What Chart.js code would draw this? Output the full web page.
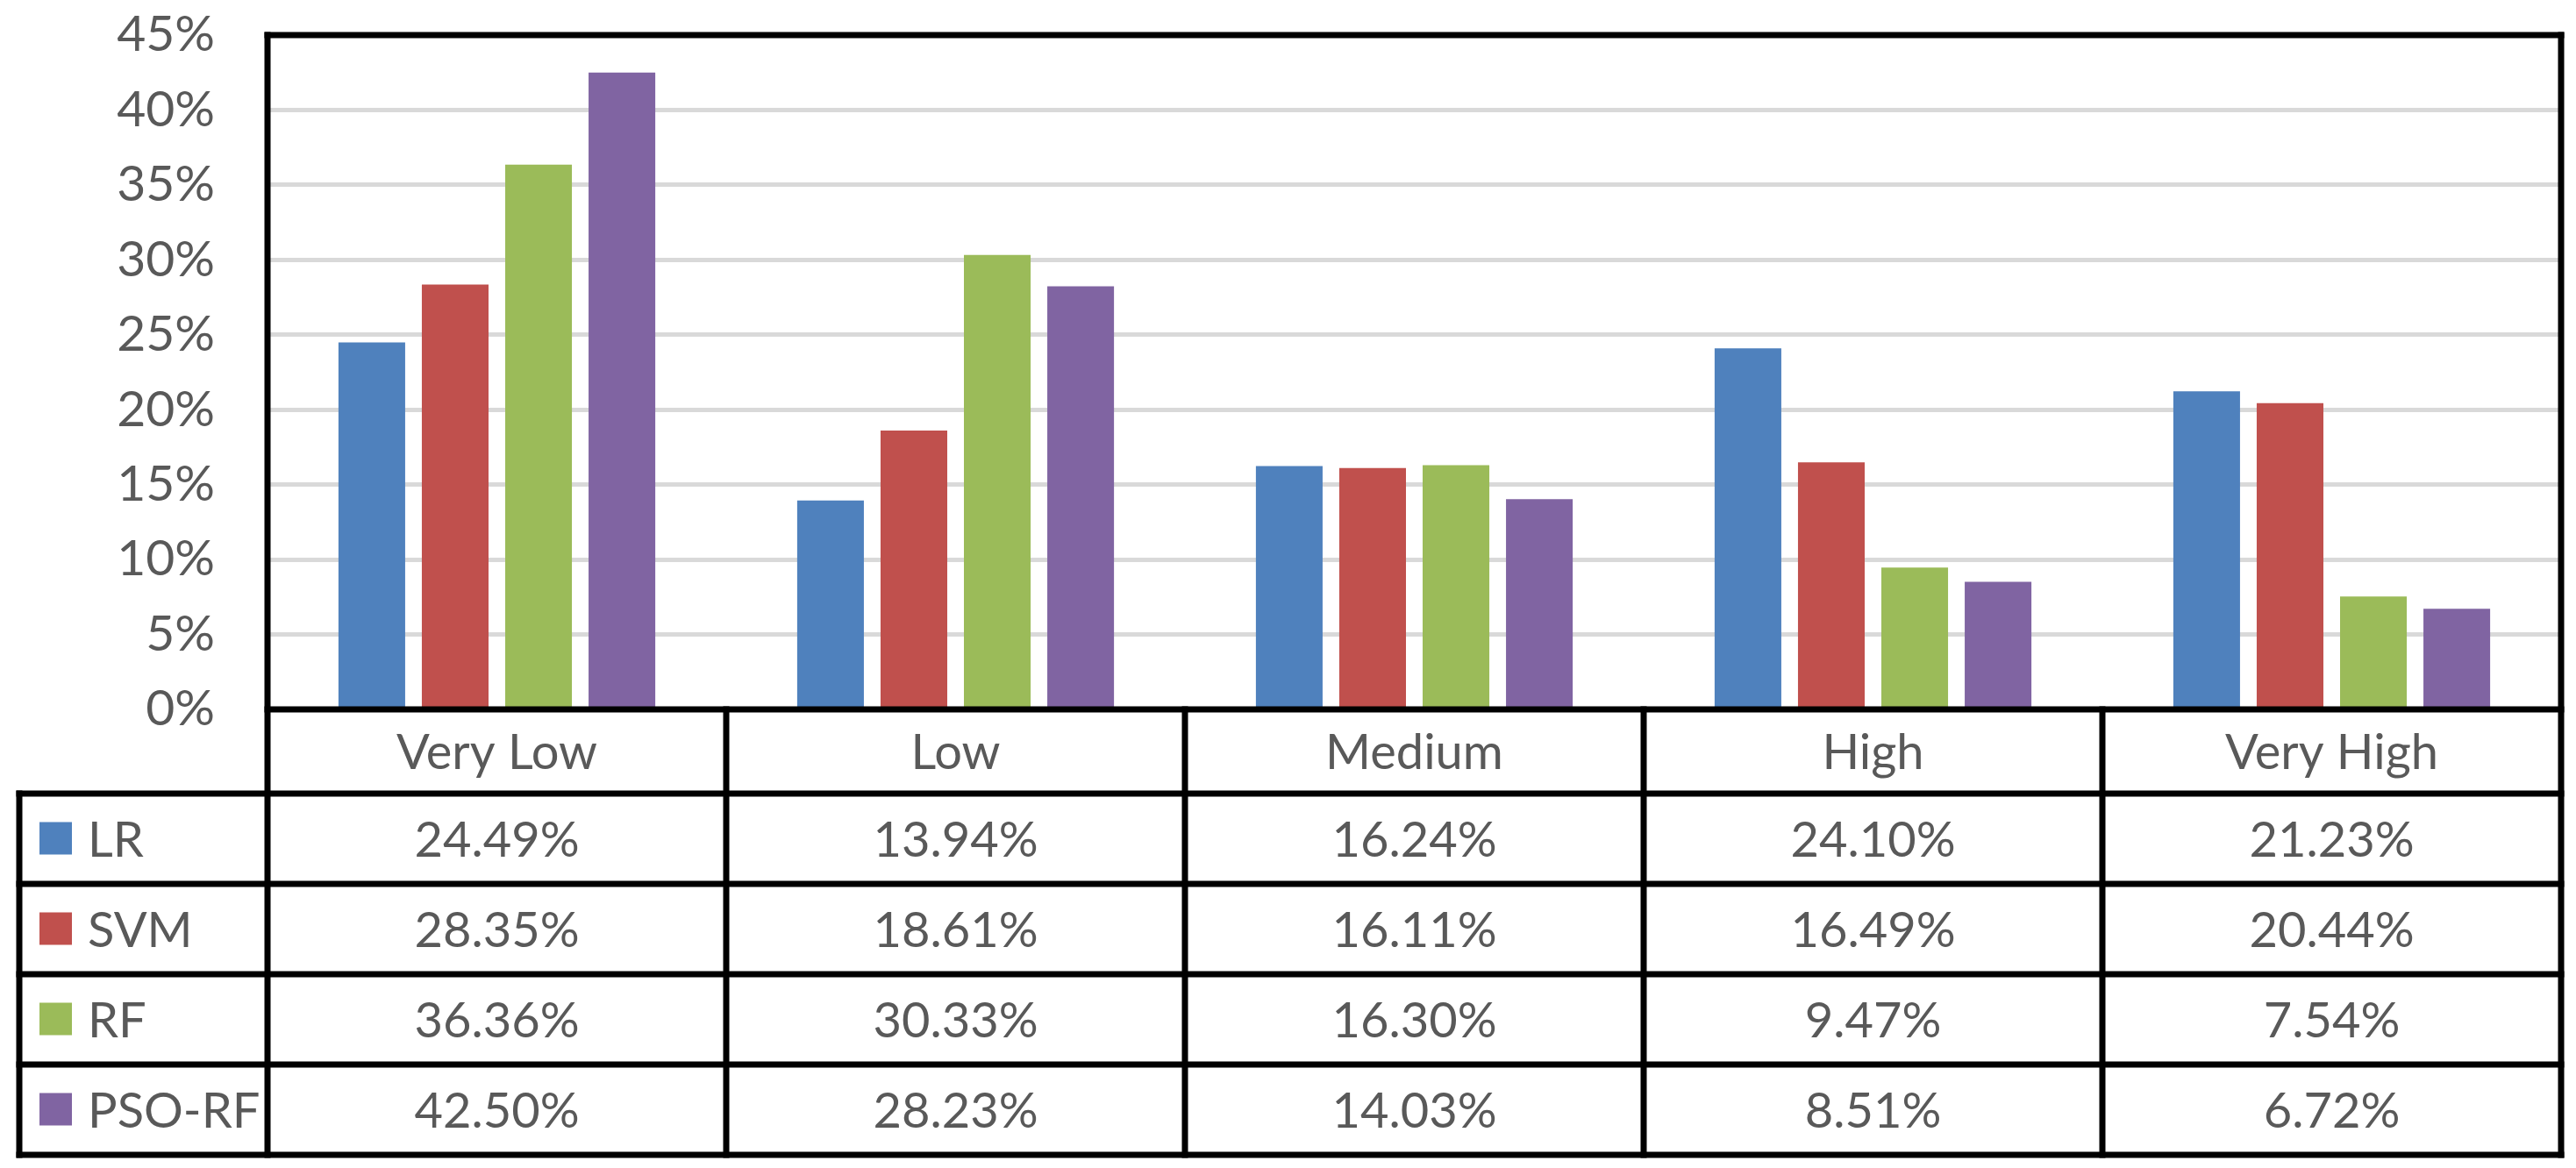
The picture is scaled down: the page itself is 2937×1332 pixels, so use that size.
<!DOCTYPE html>
<html>
<head>
<meta charset="utf-8">
<title>Model comparison by class</title>
<script src="https://cdn.jsdelivr.net/npm/chart.js@4.4.1/dist/chart.umd.min.js"></script>
<style>
    html, body { margin: 0; padding: 0; background: #ffffff; }
    #modelChart { display: block; }
</style>
</head>
<body>
<canvas id="modelChart" width="2937" height="1332"></canvas>
<script>
// Categories and series values (percent)
const categories = ['Very Low', 'Low', 'Medium', 'High', 'Very High'];
const seriesNames = ['LR', 'SVM', 'RF', 'PSO-RF'];
const lrValues = [24.49, 13.94, 16.24, 24.10, 21.23];
const svmValues = [28.35, 18.61, 16.11, 16.49, 20.44];
const rfValues = [36.36, 30.33, 16.30, 9.47, 7.54];
const psoRfValues = [42.50, 28.23, 14.03, 8.51, 6.72];
const seriesColors = ['#4F81BD', '#C0504D', '#9BBB59', '#8064A2'];

const textColor = '#595959';
const fontFamily = 'Lato, "Open Sans", sans-serif';

// Table under the plot: category row + one row per series, drawn from the x scale
const dataTablePlugin = {
    id: 'dataTable',
    afterDraw(chart) {
        const ctx = chart.ctx;
        const area = chart.chartArea;
        const xScale = chart.scales.x;
        const tableLeft = 22;
        const catRowH = 96;
        const rowH = 103;
        const catTop = area.bottom;
        const tableTop = catTop + catRowH;
        const tableBottom = tableTop + rowH * chart.data.datasets.length;
        const colW = (area.right - area.left) / categories.length;

        ctx.save();
        ctx.strokeStyle = '#000000';
        ctx.lineWidth = 7;
        ctx.lineCap = 'square';

        const line = (x1, y1, x2, y2) => {
            ctx.beginPath();
            ctx.moveTo(x1, y1);
            ctx.lineTo(x2, y2);
            ctx.stroke();
        };

        // plot frame
        line(area.left, area.top, area.right, area.top);
        line(area.left, area.top, area.left, tableBottom);
        line(area.right, area.top, area.right, tableBottom);
        line(area.left, area.bottom, area.right, area.bottom);

        // column dividers
        for (let i = 1; i < categories.length; i++) {
            const x = area.left + colW * i;
            line(x, catTop, x, tableBottom);
        }

        // row lines
        for (let r = 0; r <= chart.data.datasets.length; r++) {
            const y = tableTop + rowH * r;
            line(tableLeft, y, area.right, y);
        }
        line(tableLeft, tableTop, tableLeft, tableBottom);

        ctx.fillStyle = textColor;
        ctx.font = '56px ' + fontFamily;
        ctx.textBaseline = 'middle';
        ctx.textAlign = 'center';

        // category labels
        categories.forEach((cat, i) => {
            ctx.fillText(cat, xScale.getPixelForValue(i), catTop + catRowH / 2 + 2);
        });

        // legend column and values
        chart.data.datasets.forEach((ds, r) => {
            const cy = tableTop + rowH * r + rowH / 2;
            ctx.fillStyle = ds.backgroundColor;
            ctx.fillRect(45, cy - 19, 37, 37);
            ctx.fillStyle = textColor;
            ctx.textAlign = 'left';
            ctx.fillText(ds.label, 100, cy + 2);
            ctx.textAlign = 'center';
            ds.data.forEach((v, i) => {
                ctx.fillText(v.toFixed(2) + '%', xScale.getPixelForValue(i), cy + 2);
            });
        });
        ctx.restore();
    }
};

const seriesValues = [lrValues, svmValues, rfValues, psoRfValues];

new Chart(document.getElementById('modelChart').getContext('2d'), {
    type: 'bar',
    data: {
        labels: categories,
        datasets: seriesNames.map((name, i) => ({
            label: name,
            data: seriesValues[i],
            backgroundColor: seriesColors[i],
            borderWidth: 0,
            categoryPercentage: 0.727,
            barPercentage: 0.8
        }))
    },
    options: {
        responsive: false,
        devicePixelRatio: 1,
        animation: false,
        layout: {
            padding: { top: 40, right: 17, bottom: 523, left: 0 }
        },
        plugins: {
            legend: { display: false },
            tooltip: { enabled: false }
        },
        scales: {
            x: {
                display: false
            },
            y: {
                min: 0,
                max: 45,
                border: { display: false },
                grid: {
                    color: '#d9d9d9',
                    lineWidth: 5,
                    drawTicks: false
                },
                ticks: {
                    stepSize: 5,
                    padding: 60,
                    color: textColor,
                    font: { family: fontFamily, size: 57 },
                    callback: function(value) {
                        return value + '%';
                    }
                },
                afterFit: function(scale) {
                    // fixed axis width, no extra room for the end labels
                    scale.width = 305;
                    scale.paddingTop = 0;
                    scale.paddingBottom = 0;
                }
            }
        }
    },
    plugins: [dataTablePlugin]
});
</script>
</body>
</html>
